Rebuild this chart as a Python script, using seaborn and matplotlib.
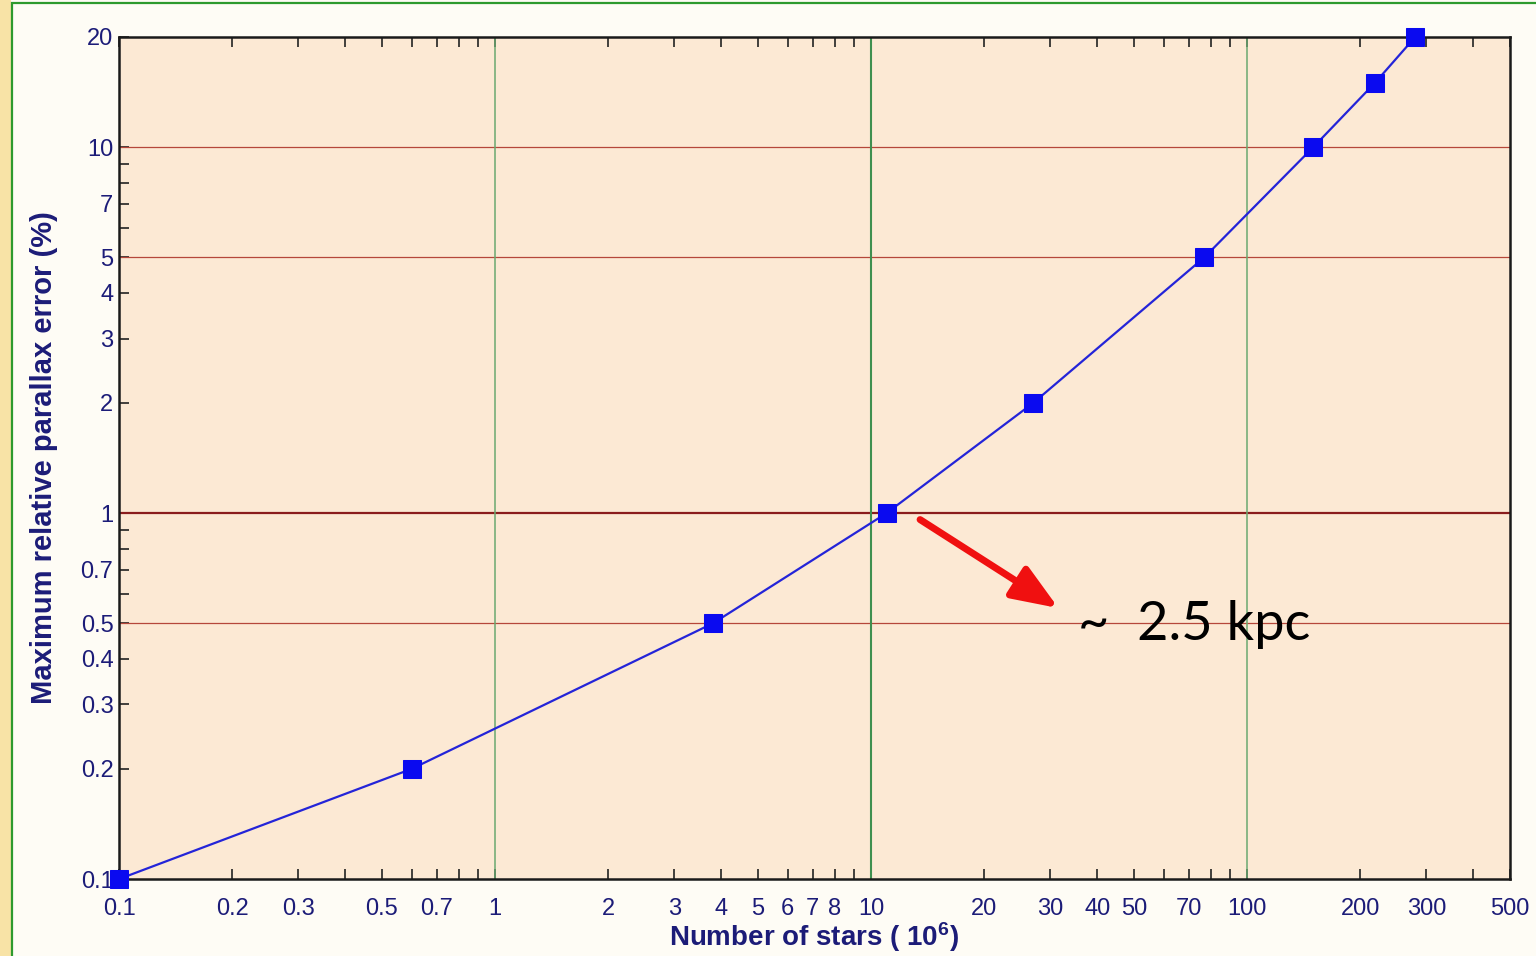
import numpy as np
import matplotlib
matplotlib.use("Agg")
import matplotlib.pyplot as plt
import seaborn as sns
from matplotlib.patches import Rectangle
from matplotlib.ticker import FixedLocator, FixedFormatter, NullFormatter

# values
n_stars = [0.1, 0.6, 3.8, 11.0, 27.0, 77.0, 150.0, 219.0, 280.0]   # 10^6 stars
max_error = [0.1, 0.2, 0.5, 1.0, 2.0, 5.0, 10.0, 15.0, 20.0]       # percent

x_labeled = [0.1, 0.2, 0.3, 0.5, 0.7, 1, 2, 3, 4, 5, 6, 7, 8, 10, 20, 30, 40, 50, 70, 100, 200, 300, 500]
x_unlabeled = [0.4, 0.6, 0.8, 0.9, 9, 60, 80, 90, 400]
y_labeled = [0.1, 0.2, 0.3, 0.4, 0.5, 0.7, 1, 2, 3, 4, 5, 7, 10, 20]
y_unlabeled = [0.6, 0.8, 0.9, 6, 8, 9]

red_lines = [0.5, 5, 10]
green_lines = [1, 100]

sns.set_style("ticks")
plt.rcParams['font.family'] = ['Liberation Sans', 'DejaVu Sans']
plt.rcParams['mathtext.fontset'] = 'custom'
plt.rcParams['mathtext.rm'] = 'Liberation Sans'
plt.rcParams['mathtext.bf'] = 'Liberation Sans:bold'

navy = '#1c1c78'

fig = plt.figure(figsize=(15.36, 9.56), dpi=100, facecolor='#fefcf5')
# yellow strip on the left and the green frame
fig.patches.append(Rectangle((0, 0), 0.007, 1, transform=fig.transFigure,
                             facecolor='#f8e3a6', edgecolor='none', zorder=0))
fig.patches.append(Rectangle((0.0075, -0.01), 1.0, 1.007, transform=fig.transFigure,
                             facecolor='none', edgecolor='#2e9a2e', lw=1.6, zorder=1))

ax = fig.add_axes([0.0775, 0.0805, 0.9055, 0.8808])
ax.set_facecolor('#fce9d4')

for v in red_lines:
    ax.axhline(v, color='#b5473a', lw=0.9, zorder=1)
ax.axhline(1, color='#8a1c1c', lw=1.6, zorder=1)
for v in green_lines:
    ax.axvline(v, color='#6aa870', lw=1.1, zorder=1)
ax.axvline(10, color='#3f8f4f', lw=1.5, zorder=1)

sns.lineplot(x=n_stars, y=max_error, ax=ax, color='#2424d8', lw=1.6,
             marker='s', markersize=13, markerfacecolor='#0a0af0',
             markeredgecolor='#0a0af0', zorder=5, clip_on=False)

ax.set_xscale('log')
ax.set_yscale('log')
ax.set_xlim(0.1, 500)
ax.set_ylim(0.1, 20)

ax.xaxis.set_major_locator(FixedLocator(x_labeled))
ax.xaxis.set_major_formatter(FixedFormatter([f'{v:g}' for v in x_labeled]))
ax.xaxis.set_minor_locator(FixedLocator(x_unlabeled))
ax.xaxis.set_minor_formatter(NullFormatter())
ax.yaxis.set_major_locator(FixedLocator(y_labeled))
ax.yaxis.set_major_formatter(FixedFormatter([f'{v:g}' for v in y_labeled]))
ax.yaxis.set_minor_locator(FixedLocator(y_unlabeled))
ax.yaxis.set_minor_formatter(NullFormatter())

ax.tick_params(which='both', direction='in', top=True, right=False, length=7,
               width=1.2, color='#222222', labelsize=17, labelcolor=navy)
ax.tick_params(axis='x', pad=14)
ax.tick_params(axis='y', pad=4)
for s in ax.spines.values():
    s.set_linewidth(1.8)
    s.set_color('#1a1a1a')

ax.set_xlabel(r'Number of stars ( $\mathbf{10^6}$)', fontsize=20, fontweight='bold',
              color=navy, labelpad=0)
ax.set_ylabel('Maximum relative parallax error (%)', fontsize=21, fontweight='bold',
              color=navy, labelpad=16)

ax.annotate('', xy=(31.5, 0.55), xytext=(13.5, 0.96),
            arrowprops=dict(arrowstyle='-|>,head_length=2.8,head_width=1.1',
                            color='#f01010', lw=5, shrinkA=0, shrinkB=0), zorder=6)
ax.text(35.5, 0.495, '~  2.5 kpc', fontsize=39, family=['Lato', 'DejaVu Sans'],
        color='black', va='center', ha='left', zorder=6)

fig.savefig('out.png', dpi=100, facecolor=fig.get_facecolor())
